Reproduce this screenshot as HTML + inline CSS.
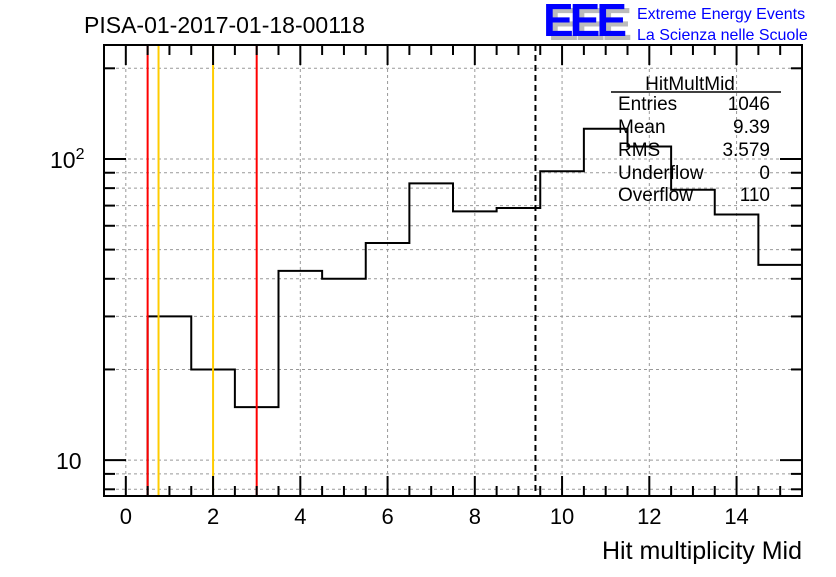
<!DOCTYPE html>
<html><head><meta charset="utf-8"><style>
body{margin:0;background:#fff;}
svg text{font-family:"Liberation Sans",sans-serif;}
</style></head><body>
<svg id="c" width="836" height="572" xmlns="http://www.w3.org/2000/svg">
<rect width="836" height="572" fill="#fff"/>
<g id="grid"></g><g id="marks"></g><g id="axes"></g>
<text x="84" y="33" font-size="23">PISA-01-2017-01-18-00118</text>
<g>
<text x="548" y="40" font-size="46" font-weight="bold" fill="#bbb" textLength="84">EEE</text>
<text x="543" y="36" font-size="46" font-weight="bold" fill="#0000ff" textLength="84">EEE</text>
<text x="637" y="19" font-size="16" fill="#0000ff">Extreme Energy Events</text>
<text x="637" y="40" font-size="16" fill="#0000ff">La Scienza nelle Scuole</text>
</g>
<g font-size="19">
<text x="690" y="90" text-anchor="middle">HitMultMid</text>
<line x1="611" y1="92" x2="781" y2="92" stroke="#000" stroke-width="1.5"/>
<text x="618" y="110">Entries</text><text x="770" y="110" text-anchor="end">1046</text>
<text x="618" y="133">Mean</text><text x="770" y="133" text-anchor="end">9.39</text>
<text x="618" y="156">RMS</text><text x="770" y="156" text-anchor="end">3.579</text>
<text x="618" y="179">Underflow</text><text x="770" y="179" text-anchor="end">0</text>
<text x="618" y="201">Overflow</text><text x="770" y="201" text-anchor="end">110</text>
</g>
<text x="802" y="559" font-size="25" text-anchor="end">Hit multiplicity Mid</text>
</svg>
<script>
const binLow = [0.5,1.5,2.5,3.5,4.5,5.5,6.5,7.5,8.5,9.5,10.5,11.5,12.5,13.5,14.5];
const binCounts = [30,20,15,42.5,40,52.6,83,67,68.7,91,126,110,79,65.4,44.5];
const binWidth = 1;
const xTicks = [0,2,4,6,8,10,12,14];
const meanValue = 9.39;
const redLines = [0.5,3.0];
const orangeLines = [0.75,2.0];
const L=104,R=802,T=45,B=496,xmin=-0.5,xmax=15.5;
const ymin=Math.log10(7.6), ymax=Math.log10(239);
const X=v=>L+(v-xmin)/(xmax-xmin)*(R-L);
const Y=v=>B-(Math.log10(v)-ymin)/(ymax-ymin)*(B-T);
const NS="http://www.w3.org/2000/svg";
function mk(p,t,a){const e=document.createElementNS(NS,t);for(const k in a)e.setAttribute(k,a[k]);p.appendChild(e);return e;}
const grid=document.getElementById('grid'),marks=document.getElementById('marks'),axes=document.getElementById('axes');
const yVals=[];for(let d=1;d<=100;d*=10)for(let m=1;m<10;m++){const v=m*d;if(v>=7.6&&v<=239)yVals.push(v);}
yVals.forEach(v=>{const y=Y(v);
 const g=mk(grid,'line',{x1:L,x2:R,y1:y,y2:y,stroke:'#999','stroke-dasharray':'3,3','stroke-width':1});
 
 const maj=(v===10||v===100);const len=maj?22:11;
 mk(axes,'line',{x1:L,x2:L+len,y1:y,y2:y,stroke:'#000','stroke-width':2});
 mk(axes,'line',{x1:R,x2:R-len,y1:y,y2:y,stroke:'#000','stroke-width':2});
});
xTicks.forEach(v=>{const x=X(v);
 const g=mk(grid,'line',{x1:x,x2:x,y1:T,y2:B,stroke:'#999','stroke-dasharray':'3,3','stroke-width':1});
 
 const t=mk(axes,'text',{x:x,y:524,'font-size':22,'text-anchor':'middle'});t.textContent=v;
 
});
for(let v=-0.5;v<=15.5;v+=0.5){const x=X(v);const maj=Number.isInteger(v)&&v%2===0;const len=maj?20:10;
 mk(axes,'line',{x1:x,x2:x,y1:B,y2:B-len,stroke:'#000','stroke-width':2});
 mk(axes,'line',{x1:x,x2:x,y1:T,y2:T+len,stroke:'#000','stroke-width':2});}
let t=mk(axes,'text',{x:56,y:469,'font-size':23});t.textContent='10';

t=mk(axes,'text',{x:50,y:168,'font-size':23});t.innerHTML='10<tspan dy="-9" font-size="16">2</tspan>';

const fr=mk(axes,'rect',{x:L,y:T,width:R-L,height:B-T,fill:'none',stroke:'#000','stroke-width':2});

let d='M'+X(binLow[0])+','+B;
binLow.forEach((lo,i)=>{const y=Y(binCounts[i]);d+=' L'+X(lo)+','+y+' L'+Math.min(X(lo+binWidth),R)+','+y;});
const h=mk(marks,'path',{d:d,fill:'none',stroke:'#000','stroke-width':2});

redLines.forEach(v=>{const l=mk(marks,'line',{x1:X(v),x2:X(v),y1:T,y2:B,stroke:'#ff0000','stroke-width':2});
 });
orangeLines.forEach(v=>{const l=mk(marks,'line',{x1:X(v),x2:X(v),y1:T,y2:B,stroke:'#ffcc00','stroke-width':2});
 });
const m=mk(marks,'line',{x1:X(meanValue),x2:X(meanValue),y1:T,y2:B,stroke:'#000','stroke-width':2,'stroke-dasharray':'6,4'});

</script>
</body></html>
